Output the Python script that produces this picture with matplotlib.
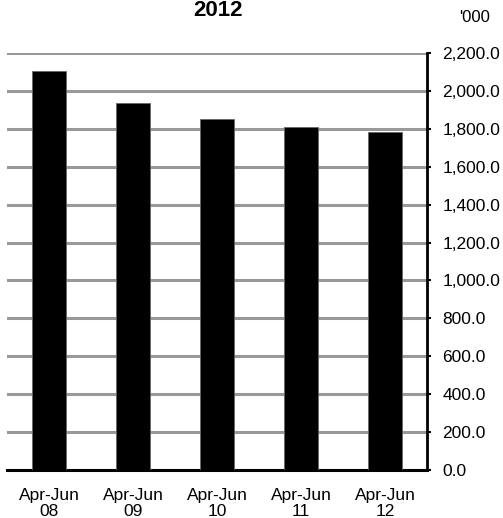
import matplotlib.pyplot as plt
import numpy as np

plt.rcParams['font.family'] = ['Liberation Sans', 'DejaVu Sans']

periods = ['Apr-Jun\n08', 'Apr-Jun\n09', 'Apr-Jun\n10', 'Apr-Jun\n11', 'Apr-Jun\n12']
values = [2105, 1936, 1853, 1812, 1782]
yticks = list(range(0, 2201, 200))

fig = plt.figure(figsize=(5.03, 5.18), dpi=100)
ax = fig.add_axes([7 / 503, 48 / 518, 420 / 503, 417 / 518])

x = np.arange(len(periods))
ax.bar(x, values, width=0.4, color='black', edgecolor='#666666', linewidth=0.6, zorder=3)

ax.set_xlim(-0.5, len(periods) - 0.5)
ax.set_ylim(0, 2200)
ax.set_yticks(yticks)
ax.set_yticklabels([f'{v:,.1f}' for v in yticks])
ax.yaxis.tick_right()
ax.yaxis.grid(True, color='#999999', linewidth=2.2, zorder=0)
ax.set_axisbelow(True)

ax.set_xticks(x)
ax.set_xticklabels(periods, fontsize=12.5, linespacing=1.05)
ax.tick_params(axis='x', length=0, pad=13)
ax.tick_params(axis='y', labelsize=12.5, length=3, width=1.5, pad=8, direction='out')

for s in ['top', 'left']:
    ax.spines[s].set_visible(False)
ax.spines['right'].set_linewidth(2)
ax.spines['bottom'].set_linewidth(2.2)

fig.text(218 / 503, 1 - 0.5 / 518, '2012', ha='center', va='top',
         fontsize=16, fontweight='bold')
fig.text(475 / 503, 1 - 22 / 518, "'000", ha='center', va='baseline', fontsize=12)

fig.savefig('out.png', dpi=100)
